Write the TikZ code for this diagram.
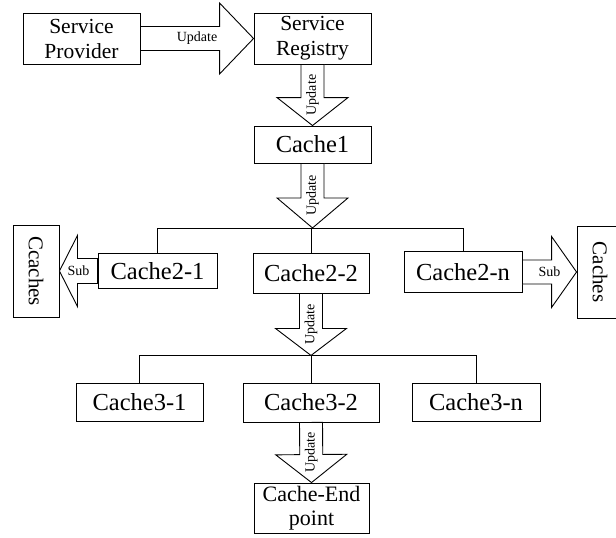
\documentclass[tikz,border=0pt]{standalone}
\usepackage{fontspec}
\setmainfont{Liberation Serif}
\usepackage{tikz}
\usetikzlibrary{positioning,calc}

% block arrow from #2 to #3: shaft half width #4, head length #5, label #6
\newcommand{\fatarrow}[6][]{%
  \coordinate (fah) at ($(#3)!#5!(#2)$);
  \draw[fat] ($(#2)!#4!90:(#3)$) -- ($(fah)!#4!-90:(#2)$) -- ($(fah)!35.5pt!-90:(#2)$)
    -- (#3) -- ($(fah)!35.5pt!90:(#2)$) -- ($(fah)!#4!90:(#2)$) -- ($(#2)!#4!-90:(#3)$) -- cycle;
  \node[tag,#1] at ($(#2)!.5!(#3)$) {#6};
}

\begin{document}
\begin{tikzpicture}[
    x=1pt, y=-1pt,
    box/.style={draw, fill=white, inner sep=0pt, line width=0.9pt, align=center},
    svc/.style={box, minimum width=117pt, minimum height=51pt, font=\fontsize{21.5}{25}\selectfont},
    cache/.style={box, font=\fontsize{24.5}{28}\selectfont},
    side/.style={box, rotate=-90, minimum width=92pt, minimum height=46pt, font=\fontsize{21}{24}\selectfont},
    tag/.style={inner sep=0pt, font=\fontsize{14}{16}\selectfont},
    fat/.style={draw, fill=white, line width=0.9pt, line join=miter},
    wire/.style={draw, line width=0.9pt}
]
    \useasboundingbox (0,0) rectangle (616,538);

    % Top row
    \node[svc] (sp) at (81.5, 38.5) {Service\\Provider};
    \node[svc] (sr) at (312.5, 38.5) {Service\\Registry};
    \node[cache, minimum width=117pt, minimum height=37pt] (c1) at (312.5, 144.5) {Cache1};

    % Second level
    \node[cache, minimum width=119pt, minimum height=35pt] (c21) at (157.5, 271) {Cache2-1};
    \node[cache, minimum width=116pt, minimum height=40pt] (c22) at (311, 273) {Cache2-2};
    \node[cache, minimum width=118pt, minimum height=41pt] (c2n) at (463, 272) {Cache2-n};
    \node[side] (cc) at (36, 271) {Ccaches};
    \node[side] (cs) at (600, 272) {Caches};

    % Third level
    \node[cache, minimum width=127pt, minimum height=38pt] (c31) at (139.5, 402) {Cache3-1};
    \node[cache, minimum width=136pt, minimum height=39pt] (c32) at (311, 402.5) {Cache3-2};
    \node[cache, minimum width=128pt, minimum height=38pt] (c3n) at (476, 402) {Cache3-n};
    \node[box, minimum width=115pt, minimum height=50pt, font=\fontsize{22}{24}\selectfont] (ce) at (311.5, 508) {Cache-End\\point};

    % Bus lines
    \coordinate (bus2) at ($(c1.south)+(0,64.5)$);
    \coordinate (bus3) at ($(c22.south)+(0,62)$);
    \draw[wire] (c21.north) |- (bus2) -| (c2n.north);
    \draw[wire] (c22.north) -- (c22.north |- bus2);
    \draw[wire] (c31.north) |- (bus3) -| (c3n.north);
    \draw[wire] (c32.north) -- (c32.north |- bus3);

    % Update arrows
    \fatarrow{sp.east}{sr.west}{12pt}{34pt}{Update}
    \fatarrow[rotate=90]{sr.south}{c1.north}{11.5pt}{28pt}{Update}
    \fatarrow[rotate=90]{c1.south}{bus2}{11.5pt}{30pt}{Update}
    \fatarrow[rotate=90]{c22.south}{bus3}{11.5pt}{27pt}{Update}
    \fatarrow[rotate=90]{c32.south}{ce.north}{11.5pt}{28pt}{Update}

    % Sub arrows (side boxes are turned, so north faces right)
    \fatarrow{c21.west}{cc.north}{12.5pt}{18pt}{Sub}
    \fatarrow{c2n.east}{cs.south}{12pt}{25pt}{Sub}

\end{tikzpicture}
\end{document}
